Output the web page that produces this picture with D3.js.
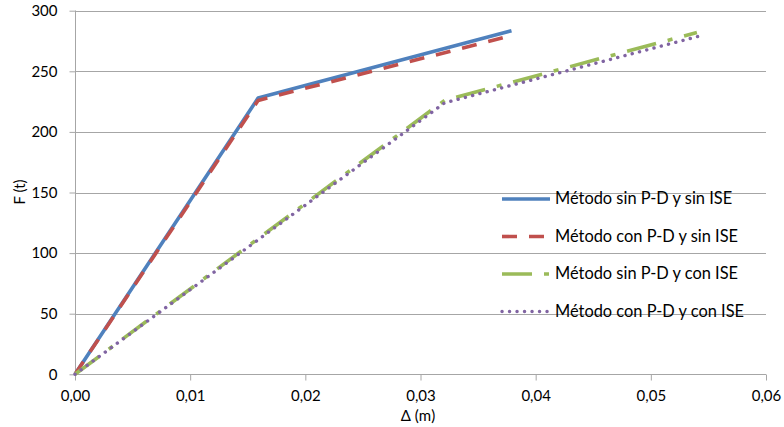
<!DOCTYPE html>
<html><head><meta charset="utf-8">
<script src="https://cdn.jsdelivr.net/npm/d3@7"></script>
<style>body{margin:0;background:#fff}svg{display:block}text{font-family:Lato,"Open Sans",sans-serif}</style>
</head><body><svg id="c" width="784" height="427"></svg>
<script>
const xTicks = [0, 0.01, 0.02, 0.03, 0.04, 0.05, 0.06];
const yTicks = [0, 50, 100, 150, 200, 250, 300];
const seriesNames = ["Método sin P-D y sin ISE","Método con P-D y sin ISE","Método sin P-D y con ISE","Método con P-D y con ISE"];
const s1x = [0, 0.0159, 0.0379];
const s1y = [0, 228, 283.5];
const s2x = [0, 0.0159, 0.0379];
const s2y = [0, 226, 279.5];
const s3x = [0, 0.0321, 0.0540];
const s3y = [0, 226, 282];
const s4x = [0, 0.0321, 0.0546];
const s4y = [0, 224, 280];
const colors = ["#4F81BD","#C0504D","#9BBB59","#8064A2"];
const dashes = [null, "15 12", "30 12 5 12", "0.1 7.4"];
const caps = ["butt","butt","butt","round"];
const widths = [3.6, 3.6, 3.6, 3.4];

const svg = d3.select("#c");
const x = d3.scaleLinear().domain([0,0.06]).range([75,766]);
const y = d3.scaleLinear().domain([0,300]).range([374.3,10.7]);
const fmt = d => d3.format(".2f")(d).replace(".", ",");

// gridlines
svg.append("g").selectAll("line").data(yTicks.slice(1)).join("line")
  .attr("x1",75).attr("x2",766).attr("y1",d=>Math.round(y(d))+0.5).attr("y2",d=>Math.round(y(d))+0.5)
  .attr("stroke","#a6a6a6").attr("stroke-width",1);

const yAxis = svg.append("g").attr("transform","translate(75.5,0)")
  .call(d3.axisLeft(y).tickValues(yTicks).tickSize(6).tickPadding(12).tickFormat(d3.format("d")));
const xAxis = svg.append("g").attr("transform","translate(0,374.5)")
  .call(d3.axisBottom(x).tickValues(xTicks).tickSize(6).tickPadding(10).tickFormat(fmt));
[yAxis,xAxis].forEach(a=>{
  a.selectAll("path,line").attr("stroke","#a6a6a6");
  a.selectAll("text").attr("fill","#000").style("font-size","15px");
  a.select(".domain").attr("d", a===yAxis ? "M0,10.5V374" : "M75,0H766");
});

const data = [[s1x,s1y],[s2x,s2y],[s3x,s3y],[s4x,s4y]];
const line = d3.line().x(d=>x(d[0])).y(d=>y(d[1]));
data.forEach(([xs,ys],i)=>{
  const pts = xs.map((v,j)=>[v,ys[j]]);
  svg.append("path").attr("d",line(pts)).attr("fill","none")
    .attr("stroke",colors[i]).attr("stroke-width", widths[i])
    .attr("stroke-dasharray",dashes[i]).attr("stroke-linecap",caps[i]).attr("stroke-linejoin","round");
});

// legend
const lg = svg.append("g");
seriesNames.forEach((n,i)=>{
  const ly = 199 + i*37.5;
  lg.append("line").attr("x1",502).attr("x2",550).attr("y1",ly).attr("y2",ly)
    .attr("stroke",colors[i]).attr("stroke-width", widths[i])
    .attr("stroke-dasharray",dashes[i]).attr("stroke-linecap",caps[i]);
  lg.append("text").attr("x",555).attr("y",ly+5).text(n).style("font-size","16.4px").attr("fill","#000");
});

svg.append("text").attr("transform","translate(25,192) rotate(-90)").attr("text-anchor","middle")
  .style("font-size","15px").text("F (t)");
svg.append("text").attr("x",418).attr("y",421).attr("text-anchor","middle")
  .style("font-size","15px").text("Δ (m)");
</script></body></html>
